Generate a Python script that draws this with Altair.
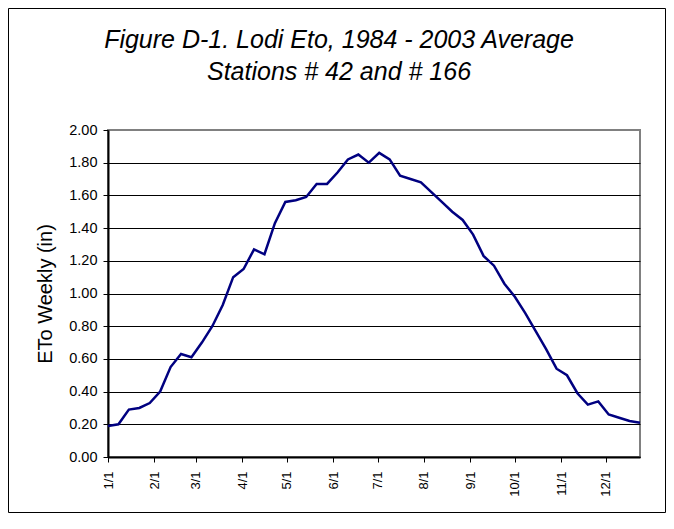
import altair as alt
import pandas as pd

# Weekly averages, day offset from Jan 1
week_day = list(range(0, 358, 7))
eto_weekly = [0.19, 0.20, 0.29, 0.30, 0.33, 0.40, 0.55, 0.63, 0.61, 0.70,
              0.80, 0.93, 1.10, 1.15, 1.27, 1.24, 1.43, 1.56, 1.57, 1.59,
              1.67, 1.67, 1.74, 1.82, 1.85, 1.80, 1.86, 1.82, 1.72, 1.70,
              1.68, 1.62, 1.56, 1.50, 1.45, 1.36, 1.23, 1.17, 1.06, 0.98,
              0.88, 0.77, 0.66, 0.54, 0.50, 0.39, 0.32, 0.34, 0.26, 0.24,
              0.22, 0.21]

month_days = [0, 31, 59, 90, 120, 151, 181, 212, 243, 273, 304, 334]
month_labels = ["1/1", "2/1", "3/1", "4/1", "5/1", "6/1", "7/1", "8/1",
                "9/1", "10/1", "11/1", "12/1"]
y_ticks = [0.0, 0.2, 0.4, 0.6, 0.8, 1.0, 1.2, 1.4, 1.6, 1.8, 2.0]

title_lines = ["Figure D-1. Lodi Eto, 1984 - 2003 Average", "Stations # 42 and # 166"]
y_title = "ETo Weekly (in)"

df = pd.DataFrame({"day": week_day, "eto": eto_weekly})

FONT = "Liberation Sans"
W, H = 532, 327
PAD = {"left": 100, "top": 122, "right": 26, "bottom": 56}

label_expr = "[" + ",".join(f"'{s}'" for s in month_labels) + "][indexof([" + \
    ",".join(str(d) for d in month_days) + "], datum.value)]"

line = alt.Chart(df).mark_line(color="#000080", strokeWidth=2.5).encode(
    x=alt.X("day:Q",
            scale=alt.Scale(domain=[0, 357], nice=False, zero=False),
            axis=alt.Axis(values=month_days, labelExpr=label_expr, title=None,
                          grid=False, labelAngle=-90, labelFont=FONT,
                          labelFontSize=13, labelColor="black",
                          labelPadding=9, tickSize=5, tickColor="black",
                          domainColor="black", domainWidth=2,
                          labelOverlap=False)),
    y=alt.Y("eto:Q",
            scale=alt.Scale(domain=[0, 2], nice=False),
            axis=alt.Axis(values=y_ticks, format=".2f", title=y_title,
                          titleFont=FONT, titleFontSize=20,
                          titleFontWeight="normal", titleColor="black",
                          titleAngle=-90, titleX=-63, titleY=H / 2,
                          titleAlign="center", titleBaseline="middle",
                          labelFont=FONT, labelFontSize=14.5,
                          labelColor="black", labelPadding=6, tickSize=5,
                          tickColor="black", domainColor="black",
                          domainWidth=2, gridColor="black", gridWidth=1,
                          gridOpacity=alt.condition("datum.value >= 2",
                                                    alt.value(0), alt.value(1)),
                          labelOverlap=False)),
)

title_style = dict(font=FONT, fontSize=25, fontStyle="italic",
                   fontWeight="normal", color="black", align="center",
                   baseline="alphabetic")

title1 = alt.Chart(alt.Data(values=[{"t": title_lines[0]}])).mark_text(
    **title_style).encode(text="t:N", x=alt.value(231), y=alt.value(-82))
title2 = alt.Chart(alt.Data(values=[{"t": title_lines[1]}])).mark_text(
    **title_style).encode(text="t:N", x=alt.value(231), y=alt.value(-50))

frame = alt.Chart(alt.Data(values=[{}])).mark_rect(
    fill=None, stroke="black", strokeWidth=1
).encode(
    x=alt.value(-PAD["left"] + 0.5),
    x2=alt.value(W + PAD["right"] - 0.5),
    y=alt.value(-PAD["top"] + 0.5),
    y2=alt.value(H + PAD["bottom"] - 0.5),
)

chart = alt.layer(line, title1, title2, frame).properties(
    width=W, height=H,
    padding=PAD,
    autosize=alt.AutoSizeParams(type="none"),
    background="white",
).configure_view(stroke="#808080", strokeWidth=2)

chart.save("out.html", embed_options={"renderer": "svg", "actions": False})
